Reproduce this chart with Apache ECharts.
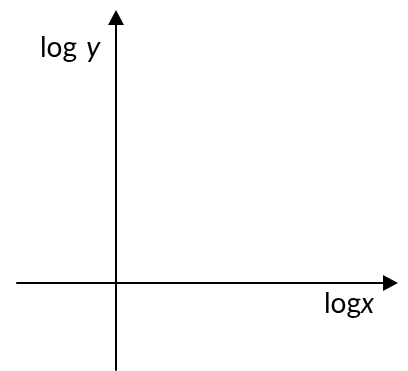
<!DOCTYPE html>
<html>
<head>
<meta charset="utf-8">
<script src="https://cdn.jsdelivr.net/npm/echarts@6/dist/echarts.min.js"></script>
<style>
  html, body { margin: 0; padding: 0; background: #fff; }
  #chart { width: 408px; height: 371px; }
</style>
</head>
<body>
<div id="chart"></div>
<script>
// Axis extents (origin at 0 where the two axes cross)
const xRange = [-99, 274.5];
const yRange = [-87, 265.5];
// Axis titles
const xTitleParts = ['log', 'x'];
const yTitleParts = ['log ', 'y'];

const chart = echarts.init(document.getElementById('chart'));

function axis(range) {
  return {
    type: 'value',
    min: range[0],
    max: range[1],
    axisLine: {
      show: true,
      onZero: true,
      symbol: ['none', 'triangle'],
      symbolSize: [16, 15],
      lineStyle: { color: '#000', width: 2 }
    },
    axisTick: { show: false },
    axisLabel: { show: false },
    splitLine: { show: false }
  };
}

const baseFont = { fontFamily: 'Lato', fontSize: 28, fill: '#000' };
const titleRich = {
  n: baseFont,
  i: Object.assign({}, baseFont, { fontStyle: 'italic' }),
  iy: Object.assign({}, baseFont, { fontStyle: 'italic', fontSize: 29, padding: [0, 0, 0, 2] })
};

chart.setOption({
  backgroundColor: '#fff',
  animation: false,
  grid: { left: 17, top: 17.5, width: 373.5, height: 352.5, containLabel: false },
  xAxis: axis(xRange),
  yAxis: axis(yRange),
  series: [],
  graphic: [
    {
      type: 'text', left: 40, top: 33,
      style: {
        text: '{n|' + yTitleParts[0] + '}{iy|' + yTitleParts[1] + '}',
        rich: titleRich
      }
    },
    {
      type: 'text', left: 324, top: 290,
      style: {
        text: '{n|' + xTitleParts[0] + '}{i|' + xTitleParts[1] + '}',
        rich: titleRich
      }
    }
  ]
});
</script>
</body>
</html>
